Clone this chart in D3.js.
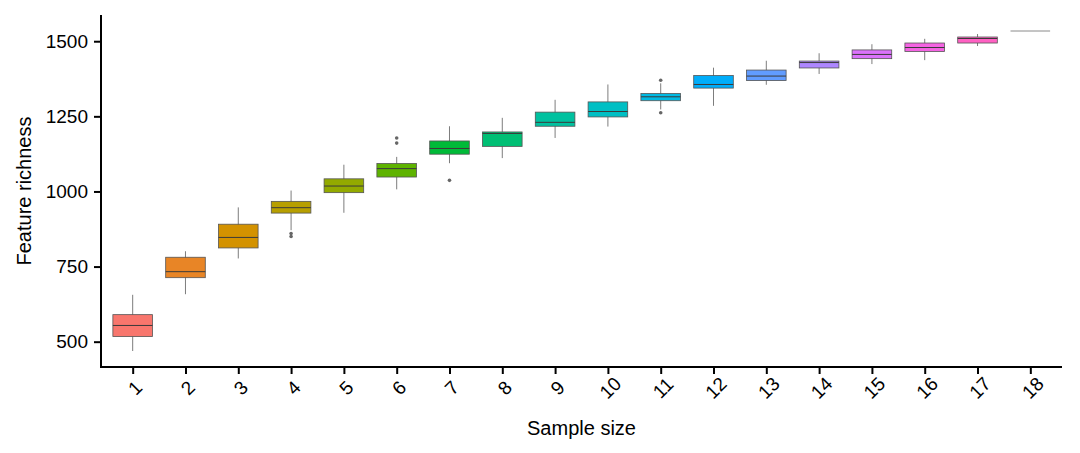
<!DOCTYPE html>
<html>
<head>
<meta charset="utf-8">
<script src="https://cdn.jsdelivr.net/npm/d3@7"></script>
<style>
  html, body { margin: 0; padding: 0; background: #fff; }
  svg { display: block; font-family: "Liberation Sans", Arial, sans-serif; }
</style>
</head>
<body>
<div id="chart"></div>
<script>
// datos
const sampleSizes = d3.range(1, 19).map(String);
const lowerWhisker = [469, 658, 777, 871, 929, 1007, 1094, 1111, 1178, 1216, 1273, 1285, 1355, 1391, 1424, 1437, 1484, 1534];
const q1Values     = [517, 713, 812, 928, 996, 1048, 1124, 1150, 1217, 1248, 1302, 1344, 1369, 1411, 1442, 1466, 1494, 1534];
const medianValues = [554, 733, 847, 946, 1018, 1076, 1143, 1193, 1230, 1266, 1315, 1356, 1384, 1429, 1456, 1479, 1509, 1534];
const q3Values     = [590, 781, 891, 967, 1042, 1093, 1168, 1198, 1264, 1298, 1326, 1386, 1404, 1434, 1471, 1494, 1514, 1534];
const upperWhisker = [656, 801, 947, 1003, 1089, 1115, 1217, 1245, 1305, 1356, 1360, 1412, 1435, 1460, 1490, 1508, 1524, 1534];
const outliers = [
  { group: "4", value: 860 }, { group: "4", value: 850 },
  { group: "6", value: 1178 }, { group: "6", value: 1161 },
  { group: "7", value: 1037 },
  { group: "11", value: 1370 }, { group: "11", value: 1262 }
];
const yTicks = [500, 750, 1000, 1250, 1500];

// paleta tipo ggplot (hcl polar LUV)
function hclLuv(h, c, l) {
  const hr = h * Math.PI / 180;
  const u = c * Math.cos(hr), v = c * Math.sin(hr);
  const Xn = 95.047, Yn = 100, Zn = 108.883;
  const den = Xn + 15 * Yn + 3 * Zn;
  const un = 4 * Xn / den, vn = 9 * Yn / den;
  const Y = Yn * (l > 8 ? Math.pow((l + 16) / 116, 3) : l / 903.3);
  const up = u / (13 * l) + un, vp = v / (13 * l) + vn;
  const X = 9 * Y * up / (4 * vp);
  const Z = Y * (12 - 3 * up - 20 * vp) / (4 * vp);
  const x = X / 100, y = Y / 100, z = Z / 100;
  const lin = [
    3.240479 * x - 1.537150 * y - 0.498535 * z,
    -0.969256 * x + 1.875992 * y + 0.041556 * z,
    0.055648 * x - 0.204043 * y + 1.057311 * z
  ];
  const g = lin.map(t => {
    const s = t <= 0.0031308 ? 12.92 * t : 1.055 * Math.pow(t, 1 / 2.4) - 0.055;
    return Math.round(Math.max(0, Math.min(1, s)) * 255);
  });
  return d3.rgb(g[0], g[1], g[2]).formatHex();
}
const palette = sampleSizes.map((d, i) => hclLuv(15 + i * 360 / sampleSizes.length, 100, 65));

const boxes = sampleSizes.map((s, i) => ({
  key: s, lo: lowerWhisker[i], q1: q1Values[i], med: medianValues[i],
  q3: q3Values[i], hi: upperWhisker[i], color: palette[i]
}));

const width = 1080, height = 453;
const margin = { left: 101, right: 18, top: 15, bottom: 86 };

const svg = d3.select('#chart').append('svg')
  .attr('width', width)
  .attr('height', height);

const x = d3.scalePoint()
  .domain(sampleSizes)
  .range([margin.left, width - margin.right])
  .padding(0.6);

const yMin = d3.min(lowerWhisker), yMax = d3.max(upperWhisker);
const pad = (yMax - yMin) * 0.05;
const y = d3.scaleLinear()
  .domain([yMin - pad, yMax + pad])
  .range([height - margin.bottom, margin.top]);

const boxW = x.step() * 0.75;

// bigotes
svg.append('g').selectAll('line')
  .data(boxes)
  .join('line')
  .attr('x1', d => x(d.key)).attr('x2', d => x(d.key))
  .attr('y1', d => y(d.lo)).attr('y2', d => y(d.hi))
  .attr('stroke', '#6e6e6e')
  .attr('stroke-width', 0.9);

// cajas
svg.append('g').selectAll('rect')
  .data(boxes)
  .join('rect')
  .attr('x', d => x(d.key) - boxW / 2)
  .attr('width', boxW)
  .attr('y', d => y(d.q3))
  .attr('height', d => Math.max(0, y(d.q1) - y(d.q3)))
  .attr('fill', d => d.color)
  .attr('stroke', '#555')
  .attr('stroke-width', 0.8);

// medianas
svg.append('g').selectAll('line')
  .data(boxes)
  .join('line')
  .attr('x1', d => x(d.key) - boxW / 2).attr('x2', d => x(d.key) + boxW / 2)
  .attr('y1', d => y(d.med)).attr('y2', d => y(d.med))
  .attr('stroke', d => d.q1 === d.q3 ? '#8a8a8a' : '#3a3a3a')
  .attr('stroke-width', 1);

// atipicos
svg.append('g').selectAll('circle')
  .data(outliers)
  .join('circle')
  .attr('cx', d => x(d.group))
  .attr('cy', d => y(d.value))
  .attr('r', 1.8)
  .attr('fill', '#666');

// ejes
const xAxis = svg.append('g')
  .attr('transform', `translate(0,${height - margin.bottom})`)
  .call(d3.axisBottom(x).tickSizeInner(7).tickSizeOuter(0));
xAxis.select('.domain').attr('stroke-width', 2).attr('d', `M${margin.left},0H${width - margin.right}`);
xAxis.selectAll('.tick line').attr('stroke-width', 2);
xAxis.selectAll('.tick text')
  .attr('font-size', 19)
  .attr('fill', '#000')
  .attr('text-anchor', 'middle')
  .attr('dy', null)
  .attr('y', 0)
  .attr('transform', 'translate(2,21) rotate(-45)')
  .attr('dominant-baseline', 'central');

const yAxis = svg.append('g')
  .attr('transform', `translate(${margin.left},0)`)
  .call(d3.axisLeft(y).tickValues(yTicks).tickFormat(d3.format('d'))
    .tickSizeInner(7).tickSizeOuter(0).tickPadding(6));
yAxis.select('.domain').attr('stroke-width', 2).attr('d', `M0,${margin.top}V${height - margin.bottom + 1}`);
yAxis.selectAll('.tick line').attr('stroke-width', 2);
yAxis.selectAll('.tick text').attr('font-size', 19).attr('fill', '#000');

// titulos
svg.append('text')
  .attr('x', (margin.left + width - margin.right) / 2)
  .attr('y', 435)
  .attr('text-anchor', 'middle')
  .attr('font-size', 20)
  .text('Sample size');

svg.append('text')
  .attr('transform', `translate(31,${(margin.top + height - margin.bottom) / 2}) rotate(-90)`)
  .attr('text-anchor', 'middle')
  .attr('font-size', 20)
  .text('Feature richness');
</script>
</body>
</html>
